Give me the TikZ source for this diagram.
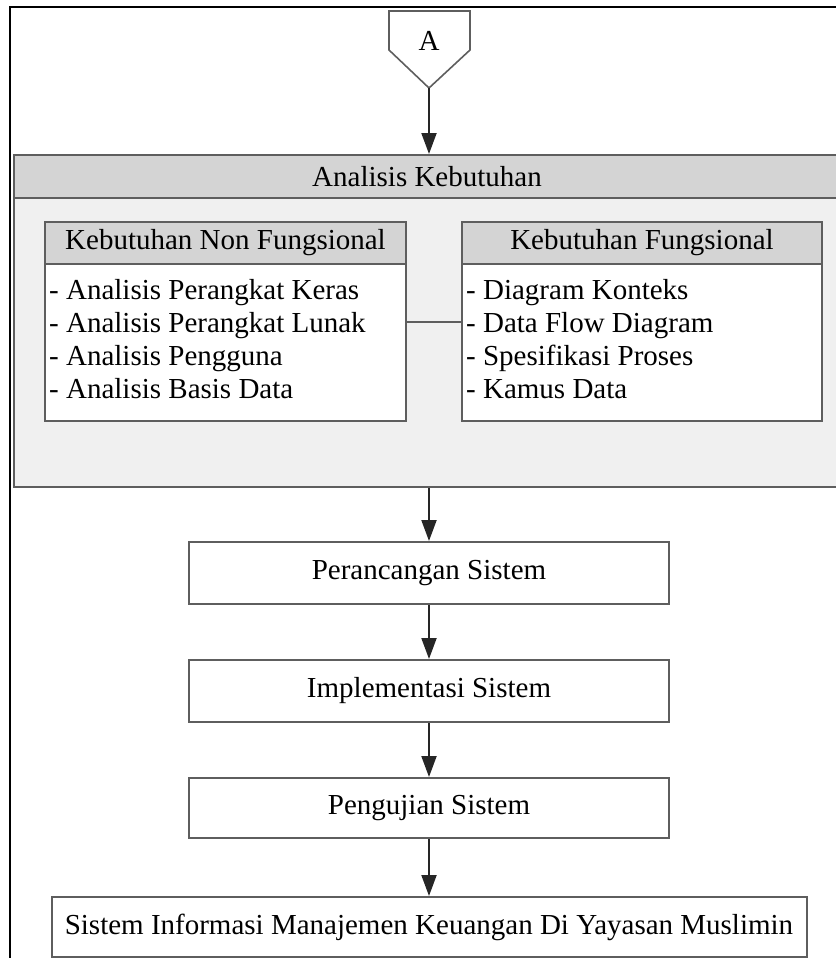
\documentclass[tikz,border=0pt]{standalone}
\usepackage{fontspec}
\setmainfont{Liberation Serif}
\usetikzlibrary{arrows.meta}
\definecolor{hdrgray}{HTML}{D4D4D4}
\definecolor{bodygray}{HTML}{F0F0F0}
\definecolor{edgegray}{HTML}{5E5E5E}
\begin{document}
\begin{tikzpicture}[x=1pt,y=-1pt,
  txt/.style={font=\fontsize{29}{33}\selectfont},
  frame/.style={draw=edgegray, line width=2pt, inner sep=0pt},
  stepbox/.style={frame, fill=white, txt, minimum width=480pt, minimum height=62pt},
  hdrbox/.style={frame, fill=hdrgray, txt},
  listtxt/.style={txt, align=left, anchor=north west, inner sep=0pt},
  arr/.style={draw=black!85, line width=2pt, -{Triangle[length=21pt,width=15pt]}},
  link/.style={draw=edgegray, line width=2pt}]
\useasboundingbox (0,0) rectangle (835,958);
% outer frame
\draw[black, line width=2pt] (10,962) -- (10,7) -- (840,7);
% off-page connector
\draw[edgegray, line width=1.6pt, fill=white, line join=miter]
  (389,11) -- (470,11) -- (470,50) -- (429,88) -- (389,50) -- cycle;
\coordinate (Atip) at (429,88);
\node[txt, inner sep=0pt] (Alabel) at (429,41) {A};
% Analisis Kebutuhan container
\node[frame, fill=bodygray, minimum width=826pt, minimum height=332pt, anchor=north west] (keb) at (13,154) {};
\node[hdrbox, minimum width=826pt, minimum height=43pt, anchor=north west] (kebhdr) at (13,154) {Analisis Kebutuhan};
% Non functional
\node[frame, fill=white, minimum width=361pt, minimum height=199pt, anchor=north west] (nfbox) at (44,221) {};
\node[hdrbox, minimum width=361pt, minimum height=42pt, anchor=north west] (nfhdr) at (44,221) {Kebutuhan Non Fungsional};
\node[listtxt] (nflist) at (49,279) {- Analisis Perangkat Keras\\- Analisis Perangkat Lunak\\- Analisis Pengguna\\- Analisis Basis Data};
% Functional
\node[frame, fill=white, minimum width=360pt, minimum height=199pt, anchor=north west] (fbox) at (461,221) {};
\node[hdrbox, minimum width=360pt, minimum height=42pt, anchor=north west] (fhdr) at (461,221) {Kebutuhan Fungsional};
\node[listtxt] (flist) at (466,279) {- Diagram Konteks\\- Data Flow Diagram\\- Spesifikasi Proses\\- Kamus Data};
\draw[link] (nfbox.east) -- (fbox.west);
% steps
\node[stepbox] (rancang) at (429,573) {Perancangan Sistem};
\node[stepbox] (impl) at (429,691) {Implementasi Sistem};
\node[stepbox, minimum height=60pt] (uji) at (429,808) {Pengujian Sistem};
\node[stepbox, minimum width=755pt, minimum height=60pt] (sim) at (429,927) {Sistem Informasi Manajemen Keuangan Di Yayasan Muslimin};
% arrows
\draw[arr] (Atip) -- (Atip |- kebhdr.north);
\draw[arr] (rancang.north |- keb.south) -- (rancang.north);
\draw[arr] (rancang.south) -- (impl.north);
\draw[arr] (impl.south) -- (uji.north);
\draw[arr] (uji.south) -- (sim.north);
\end{tikzpicture}
\end{document}
